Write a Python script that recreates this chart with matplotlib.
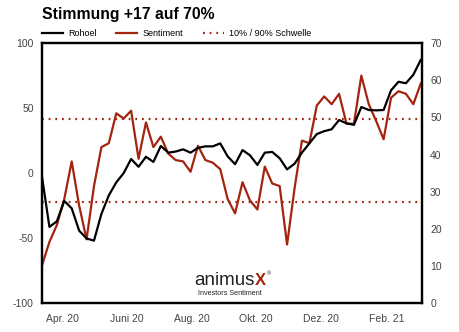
import numpy as np
import pandas as pd
import matplotlib
matplotlib.use('Agg')
import matplotlib.pyplot as plt
from matplotlib.lines import Line2D

plt.rcParams['font.family'] = ['Liberation Sans', 'DejaVu Sans']
plt.rcParams['axes.unicode_minus'] = False

# wöchentliche Werte, 13.03.2020 bis 05.03.2021
datum = pd.date_range('2020-03-13', periods=52, freq='7D')

sentiment = [-71, -53, -40, -20, 9, -25, -51, -10, 20, 23,
             46, 42, 48, 11, 39, 20, 28, 15, 10, 9,
             1, 21, 10, 8, 3, -20, -31, -7, -21, -28,
             5, -8, -10, -55, -12, 25, 23, 52, 59, 53,
             61, 38, 38, 75, 53, 40, 26, 58, 63, 61,
             53, 69]

rohoel = [34, 20.5, 22, 27.5, 25.5, 19.5, 17.4, 16.8, 24, 29,
          32.5, 35, 38.8, 36.7, 39.4, 38, 42.3, 40.5, 40.8, 41.4,
          40.5, 41.8, 42.2, 42.2, 43, 39.5, 37.4, 41.2, 39.8, 37.2,
          40.5, 40.7, 39, 36, 37.5, 40.5, 43, 45.5, 46.3, 46.8,
          49.3, 48.4, 48, 52.8, 52, 51.9, 52, 57.3, 59.6, 59.2,
          61.5, 65.5]

schwelle_oben = 41.5
schwelle_unten = -22.3

tick_daten = pd.to_datetime(['2020-04-01', '2020-06-01', '2020-08-01',
                             '2020-10-01', '2020-12-01', '2021-02-01'])
tick_labels = ['Apr. 20', 'Juni 20', 'Aug. 20', 'Okt. 20', 'Dez. 20', 'Feb. 21']

rot = '#a3240f'
grau = '#444444'

fig = plt.figure(figsize=(4.59, 3.32), dpi=100)
ax = fig.add_axes([0.0915, 0.0873, 0.8275, 0.7827])
ax2 = ax.twinx()

ax.plot(datum, sentiment, color=rot, lw=1.6, zorder=3)
ax.axhline(schwelle_oben, color=rot, lw=1.6, ls=(0, (0.8, 2.2)), zorder=2)
ax.axhline(schwelle_unten, color=rot, lw=1.6, ls=(0, (0.8, 2.2)), zorder=2)
ax2.plot(datum, rohoel, color='black', lw=1.6, zorder=3)

ax.set_xlim(datum[0], datum[-1] + pd.Timedelta(days=1))
ax.set_ylim(-100, 100)
ax2.set_ylim(0, 70)
ax.set_yticks([-100, -50, 0, 50, 100])
ax2.set_yticks(range(0, 71, 10))
ax.set_xticks(tick_daten)
ax.set_xticklabels(tick_labels)

for a in (ax, ax2):
    a.tick_params(length=0, labelsize=7.5, labelcolor=grau, pad=6)
    for s in a.spines.values():
        s.set_linewidth(1.6)
        s.set_color('black')
ax.tick_params(axis='x', pad=8)

fig.text(0.0915, 0.955, 'Stimmung +17 auf 70%', fontsize=11.3,
         fontweight='bold', va='center', ha='left')

handles = [Line2D([], [], color='black', lw=1.6),
           Line2D([], [], color=rot, lw=1.6),
           Line2D([], [], color=rot, lw=1.6, ls=(0, (0.8, 2.2)))]
fig.legend(handles, ['Rohoel', 'Sentiment', '10% / 90% Schwelle'],
           loc='center left', bbox_to_anchor=(0.091, 0.898), ncol=3,
           frameon=False, fontsize=6.5, handlelength=2.3, handletextpad=0.6,
           columnspacing=2.2, borderaxespad=0, borderpad=0)

# Logo
fig.text(0.5555, 0.155, 'animus', fontsize=13.5, fontweight='light',
         ha='right', va='center', color='#222222')
fig.text(0.556, 0.155, 'X', fontsize=12, fontweight='bold',
         ha='left', va='center', color=rot)
fig.text(0.582, 0.175, '®', fontsize=4, ha='left', va='center', color='#222222')
fig.text(0.501, 0.117, 'Investors Sentiment', fontsize=5.2,
         ha='center', va='center', color='#222222')

fig.savefig('out.png', dpi=100)
